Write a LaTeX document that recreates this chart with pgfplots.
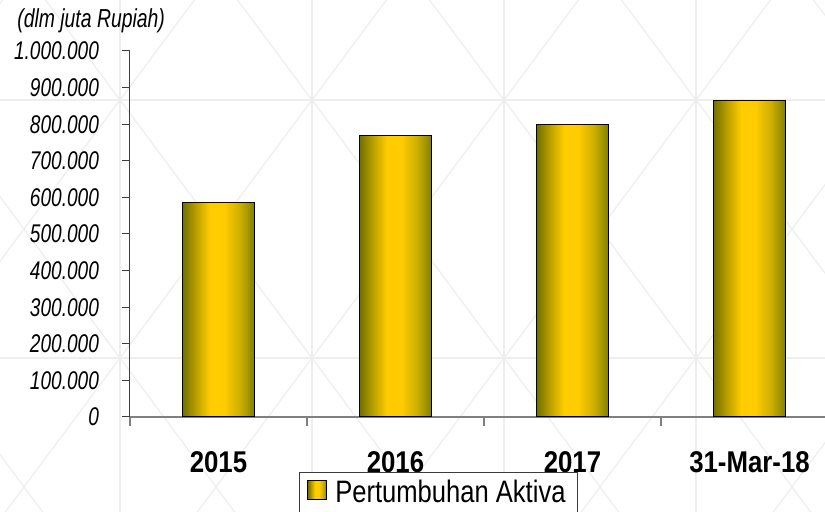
\documentclass[border=0pt]{standalone}
\usepackage{fontspec}
\setmainfont{Liberation Sans}
\newfontfamily\narrowfont{Liberation Sans}[FakeStretch=0.745]
\newfontfamily\labelfont{Liberation Sans}[FakeStretch=0.86]
\newfontfamily\legfont{Liberation Sans}[FakeStretch=0.825]
\usepackage{pgfplots}
\pgfplotsset{compat=1.18}

\definecolor{olv}{RGB}{112,112,0}
\definecolor{olvr}{RGB}{130,128,0}
\definecolor{gld}{RGB}{255,204,0}
\definecolor{wm}{RGB}{238,238,238}
\definecolor{axgray}{RGB}{128,128,128}
\definecolor{axdark}{RGB}{60,60,60}

% bar gradient: olive at the edges, gold in the middle
\pgfdeclarehorizontalshading{barshade}{100bp}{color(0bp)=(olv); color(25bp)=(olv);
  color(35bp)=(gld!55!olv); color(44bp)=(gld); color(54bp)=(gld);
  color(65bp)=(gld!60!olvr); color(75bp)=(olvr); color(100bp)=(olvr)}

\pgfplotsset{goldbar/.style={shade, shading=barshade, draw=black, line width=0.5pt, bar shift=0pt}}

\begin{document}
\begin{tikzpicture}
\useasboundingbox (0,0) rectangle (412.5pt,-256pt);

% faint watermark lattice behind the chart
\begin{scope}[x=0.5pt, y=-0.5pt, draw=wm, line width=0.65pt]
  \foreach \k in {-1,...,4} \draw (120+192*\k,-10) -- (120+192*\k,530);
  \foreach \yy in {100,358} \draw (-10,\yy) -- (835,\yy);
  \foreach \k in {-3,...,6} {
    \draw ({120+192*\k-110/1.34375},-10) -- ({120+192*\k+430/1.34375},530);
    \draw ({120+192*\k+110/1.34375},-10) -- ({120+192*\k-430/1.34375},530);
  }
\end{scope}

\node[anchor=base west, inner sep=0pt, font=\narrowfont\itshape\fontsize{13}{14}\selectfont]
  at (8.5pt,-14pt) {(dlm juta Rupiah)};

\begin{axis}[
  at={(65pt,-208.5pt)}, anchor=south west,
  scale only axis, width=354pt, height=183pt,
  xmin=-0.5, xmax=3.5, ymin=0, ymax=1000000,
  axis lines*=left,
  x axis line style={axgray, line width=0.75pt},
  y axis line style={axdark, line width=0.5pt},
  ybar, bar width=36pt,
  tick align=outside,
  major tick length=4pt,
  minor tick length=4.5pt,
  ytick={0,100000,200000,300000,400000,500000,600000,700000,800000,900000,1000000},
  scaled y ticks=false,
  y tick style={axdark, line width=0.5pt},
  yticklabel style={font=\narrowfont\itshape\fontsize{12.8}{13}\selectfont, xshift=-8pt,
    /pgf/number format/.cd, fixed, 1000 sep={.}, assume math mode=true},
  xtick={0,1,2,3},
  xticklabels={2015,2016,2017,31-Mar-18},
  major x tick style={draw=none},
  minor xtick={-0.5,0.5,1.5,2.5,3.5},
  minor x tick style={axgray, line width=0.75pt},
  xticklabel style={font=\labelfont\bfseries\fontsize{15}{15}\selectfont, anchor=base, yshift=-24pt},
  legend style={at={(0.2387,-0.1503)}, anchor=north west, draw=axdark, line width=0.5pt,
    fill=white, font=\legfont\fontsize{15.5}{16}\selectfont, inner xsep=4pt, inner ysep=2pt,
    /tikz/every odd column/.append style={column sep=2pt}},
]
\addplot[goldbar,
  legend image code/.code={\shade[shading=barshade, draw=black, line width=0.4pt] (0pt,-3pt) rectangle (9.5pt,6.5pt);}]
  coordinates {(0,585000)};
\addlegendentry{Pertumbuhan Aktiva}
\addplot[goldbar, forget plot] coordinates {(1,770000)};
\addplot[goldbar, forget plot] coordinates {(2,800000)};
\addplot[goldbar, forget plot] coordinates {(3,866000)};
\end{axis}
\end{tikzpicture}
\end{document}
